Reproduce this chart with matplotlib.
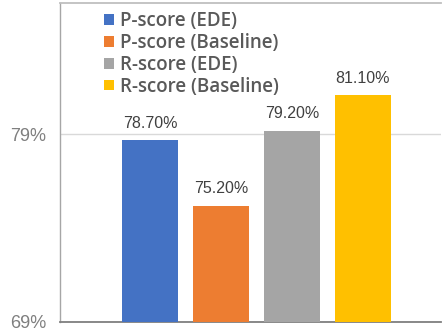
import matplotlib
matplotlib.use("Agg")
import matplotlib.pyplot as plt
from matplotlib.patches import Patch

series = ["P-score (EDE)", "P-score (Baseline)", "R-score (EDE)", "R-score (Baseline)"]
values = [78.70, 75.20, 79.20, 81.10]
colors = ["#4472C4", "#ED7D31", "#A5A5A5", "#FFC000"]
yticks = [69, 79]
ytick_labels = ["69%", "79%"]

fig = plt.figure(figsize=(4.42, 3.31), dpi=100)
W, H = 442, 331
ax = fig.add_axes([60 / W, 1 - 322 / H, (441 - 60) / W, (322 - 3) / H])

x = list(range(len(values)))
bars = ax.bar(x, values, width=0.79, color=colors, bottom=0, zorder=3)
ax.set_ylim(69, 86)
ax.set_xlim(-1.27, 4.10)

for xi, v in zip(x, values):
    ax.text(xi, v + 0.5, f"{v:.2f}%", ha="center", va="bottom",
            fontsize=11.5, color="#404040", family="Liberation Sans")

ax.set_yticks(yticks)
ax.set_yticklabels(ytick_labels, fontsize=13, color="#7F7F7F", family="Liberation Sans")
ax.tick_params(axis="y", length=0, pad=10)
ax.set_xticks([])
ax.yaxis.grid(True, color="#D9D9D9", linewidth=1, zorder=0)

ax.spines["right"].set_visible(False)
ax.spines["left"].set_color("#A6A6A6")
ax.spines["top"].set_color("#BFBFBF")
ax.spines["bottom"].set_color("#7F7F7F")
ax.spines["left"].set_linewidth(1)
ax.spines["top"].set_linewidth(1.3)
ax.spines["bottom"].set_linewidth(1.3)

handles = [Patch(facecolor=c, edgecolor="none") for c in colors]
leg = fig.legend(handles, series, loc="upper left",
                 bbox_to_anchor=(91 / W, 1 + 2 / H), frameon=False,
                 handlelength=0.5, handleheight=0.5, handletextpad=0.35,
                 labelspacing=0.1, borderpad=0.2,
                 prop={"family": "Open Sans", "size": 13.5, "weight": "semibold"},
                 labelcolor="#595959")

fig.savefig("out.png", dpi=100)
